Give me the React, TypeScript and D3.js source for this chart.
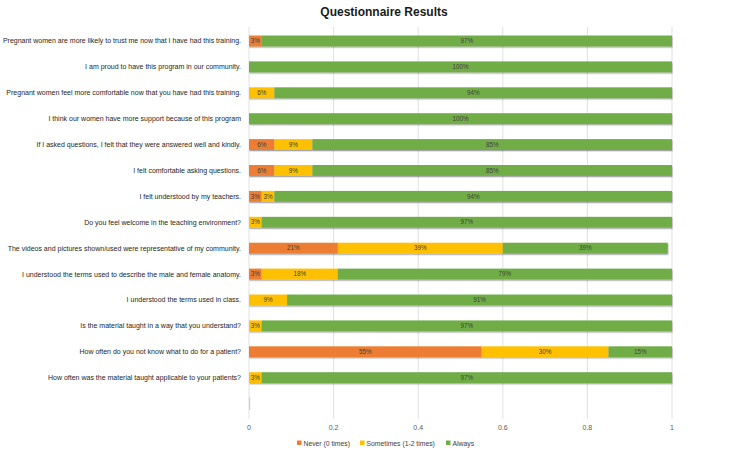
import { useEffect, useRef } from "react";
import * as d3 from "d3";

const questions = [
  "Pregnant women are more likely to trust me now that I have had this training.",
  "I am proud to have this program in our community.",
  "Pregnant women feel more comfortable now that you have had this training.",
  "I think our women have more support because of this program",
  "If I asked questions, I felt that they were answered well and kindly.",
  "I felt comfortable asking questions.",
  "I felt understood by my teachers.",
  "Do you feel welcome in the teaching environment?",
  "The videos and pictures shown/used were representative of my community.",
  "I understood the terms used to describe the male and female anatomy.",
  "I understood the terms used in class.",
  "Is the material taught in a way that you understand?",
  "How often do you not know what to do for a patient?",
  "How often was the material taught applicable to your patients?",
  "",
];

const never = [0.03, 0, 0, 0, 0.06, 0.06, 0.03, 0, 0.21, 0.03, 0, 0, 0.55, 0, 0];
const sometimes = [0, 0, 0.06, 0, 0.09, 0.09, 0.03, 0.03, 0.39, 0.18, 0.09, 0.03, 0.3, 0.03, 0];
const always = [0.97, 1, 0.94, 1, 0.85, 0.85, 0.94, 0.97, 0.39, 0.79, 0.91, 0.97, 0.15, 0.97, 0];

const seriesNames = ["Never (0 times)", "Sometimes (1-2 times)", "Always"];
const seriesColors = ["#ED7D31", "#FFC000", "#70AD47"];
const xTicks = [0, 0.2, 0.4, 0.6, 0.8, 1];

const FONT = "'Liberation Sans', Arial, sans-serif";

export default function App() {
  const svgRef = useRef<SVGSVGElement>(null);

  useEffect(() => {
    const svg = d3.select(svgRef.current);
    svg.selectAll("*").remove();

    const width = 750;
    const left = 249, right = 672, top = 28, bottom = 416.5;

    const x = d3.scaleLinear().domain([0, 1]).range([left, right]);
    const y = d3.scaleBand<number>().domain(d3.range(questions.length)).range([top, bottom]).paddingInner(0.58).paddingOuter(0.29);

    const defs = svg.append("defs");
    const f = defs.append("filter").attr("id", "shadow").attr("x", "-5%").attr("y", "-50%").attr("width", "110%").attr("height", "220%");
    f.append("feDropShadow").attr("dx", 0.5).attr("dy", 1.3).attr("stdDeviation", 0.7)
      .attr("flood-color", "#000").attr("flood-opacity", 0.35);

    // title
    svg.append("text").attr("x", width / 2 + 9).attr("y", 16).attr("text-anchor", "middle")
      .attr("font-family", FONT).attr("font-weight", "bold").attr("font-size", 12)
      .attr("fill", "#1a1a1a").text("Questionnaire Results");

    // gridlines
    svg.append("g").selectAll("line").data(xTicks).join("line")
      .attr("x1", d => x(d)).attr("x2", d => x(d))
      .attr("y1", top - 1).attr("y2", 419)
      .attr("stroke", "#d9d9d9").attr("stroke-width", 0.8);

    // tick labels
    svg.append("g").selectAll("text").data(xTicks).join("text")
      .attr("x", d => x(d)).attr("y", 430).attr("text-anchor", "middle")
      .attr("font-family", FONT).attr("font-size", 7).attr("fill", "#595959")
      .text(d => String(d));

    // category labels
    svg.append("g").selectAll("text").data(questions).join("text")
      .attr("x", 241).attr("y", (_, i) => (y(i) as number) + y.bandwidth() / 2)
      .attr("dy", "0.35em").attr("text-anchor", "end")
      .attr("font-family", FONT).attr("font-size", 7).attr("fill", "#262626")
      .text(d => d);

    const rows = questions.map((_, i) => [never[i], sometimes[i], always[i]]);
    const stacked = d3.stack<number[]>().keys(["0", "1", "2"]).value((d, k) => d[+k])(rows);

    const bars = svg.append("g");
    stacked.forEach((layer, si) => {
      layer.forEach((seg, i) => {
        const w = x(seg[1]) - x(seg[0]);
        if (w <= 0) return;
        bars.append("rect")
          .attr("x", x(seg[0])).attr("y", y(i) as number)
          .attr("width", w).attr("height", y.bandwidth())
          .attr("fill", seriesColors[si]).attr("filter", "url(#shadow)");
      });
    });

    // tiny mark in empty last row
    const lastRow = questions.length - 1;
    svg.append("rect").attr("x", x(0)).attr("y", (y(lastRow) as number) - 1)
      .attr("width", 1.2).attr("height", y.bandwidth() + 2).attr("fill", "#cfcfcf");

    const labels = svg.append("g");
    stacked.forEach((layer) => {
      layer.forEach((seg, i) => {
        const v = seg[1] - seg[0];
        if (v <= 0) return;
        labels.append("text")
          .attr("x", (x(seg[0]) + x(seg[1])) / 2)
          .attr("y", (y(i) as number) + y.bandwidth() / 2)
          .attr("dy", "0.35em").attr("text-anchor", "middle")
          .attr("font-family", FONT).attr("font-size", 6.3).attr("fill", "#404040")
          .text(`${Math.round(v * 100)}%`);
      });
    });

    // legend
    const legendX = [297, 360, 446];
    const lg = svg.append("g");
    seriesNames.forEach((name, i) => {
      lg.append("rect").attr("x", legendX[i]).attr("y", 440.5).attr("width", 4.5).attr("height", 4.5)
        .attr("fill", seriesColors[i]);
      lg.append("text").attr("x", legendX[i] + 6.5).attr("y", 445.5)
        .attr("font-family", FONT).attr("font-size", 6.8).attr("fill", "#404040").text(name);
    });
  }, []);

  return (
    <svg ref={svgRef} width={750} height={451}
      style={{ position: "absolute", left: 0, top: 0, background: "#fff" }} />
  );
}
